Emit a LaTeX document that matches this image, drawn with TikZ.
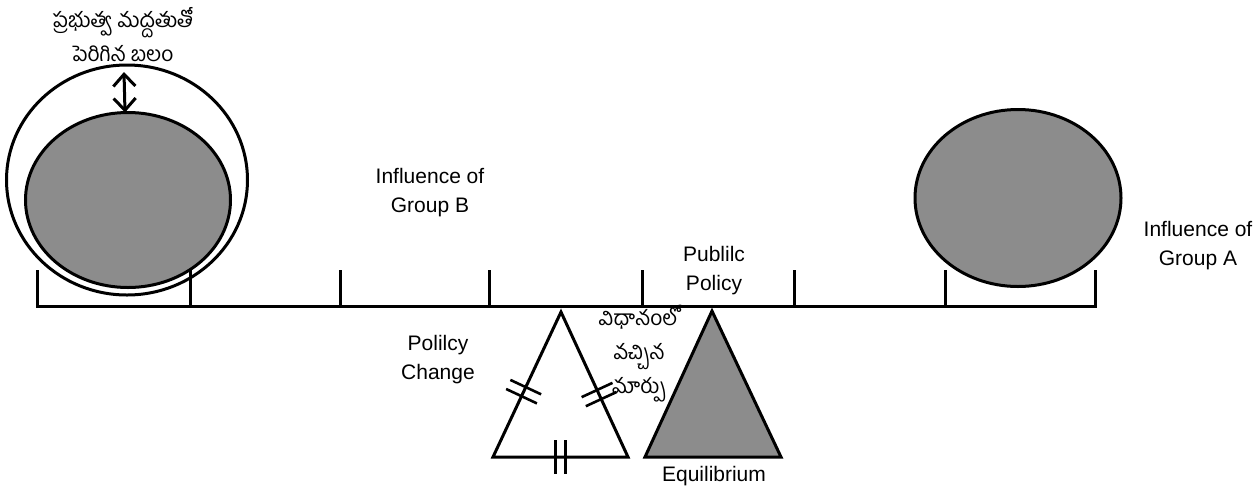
\documentclass[tikz,border=0pt]{standalone}
\usepackage{fontspec}
\setmainfont{Liberation Sans}
\newfontfamily\telugu[Script=Telugu]{Hind Guntur}
\usetikzlibrary{arrows.meta,shapes.geometric,decorations.markings}

\tikzset{
	ball/.style={ellipse, draw, inner sep=0pt, outer sep=0pt},
	weight/.style={fill=black!45},
	lbl/.style={align=center, font=\fontsize{10.5}{14.5}\selectfont},
	tel/.style={align=center, font=\telugu\fontsize{10.5}{17}\selectfont},
	eqticks/.style={postaction={decorate, decoration={markings,
		mark=at position #1 with {\draw[line width=1.3pt] (-5,-17)--(-5,17) (5,-17)--(5,17);}}}}
}

\begin{document}
\begin{tikzpicture}[x=0.5pt, y=-0.5pt, line width=1.5pt]
	\useasboundingbox (0,0) rectangle (1254,489);
	%\draw[help lines] (0,0) grid[step=50] (1254,489);
	% beam
	\draw (37,270) -- (37,306) -- (1095,306) -- (1095,270);
	\foreach \x in {190,340,489,642,794,945}
		\draw (\x,306) -- (\x,270);
	% weights
	\node[ball, minimum width=120.5pt, minimum height=115pt] (outer) at (127,180) {};
	\node[ball, weight, minimum width=102.5pt, minimum height=87.5pt] (inner) at (128,200) {};
	\node[ball, weight, minimum width=103pt, minimum height=88.5pt] (groupA) at (1018,198) {};
	\draw[{Straight Barb[length=6pt,width=11pt]}-{Straight Barb[length=6pt,width=11pt]}]
		([xshift=-1.5pt, yshift=-3.5pt]outer.north) -- ([xshift=-1.5pt]inner.north);
	% triangles
	\coordinate (lt) at (561,312); \coordinate (ll) at (493,457); \coordinate (lr) at (628,457);
	\coordinate (rt) at (712,311); \coordinate (rl) at (645,457); \coordinate (rr) at (781,457);
	\draw[line join=miter] (lt) -- (ll) -- (lr) -- cycle;
	\path[eqticks=0.55] (lt) -- (ll);
	\path[eqticks=0.57] (lt) -- (lr);
	\path[eqticks=0.5] (ll) -- (lr);
	\draw[weight, line join=miter] (rt) -- (rl) -- (rr) -- cycle;
	% labels
	\node[tel] (support) at (123,35) {ప్రభుత్వ మద్దతుతో\\పెరిగిన బలం};
	\node[lbl] (inflB) at (430,193) {Influence of\\Group B};
	\node[lbl] (inflA) at (1198,246) {Influence of\\Group A};
	\node[lbl] (policy) at (714,271) {Publilc\\Policy};
	\node[lbl] (change) at (438,360) {Polilcy\\Change};
	\node[tel] (change te) at (639,354) {విధానంలో\\వచ్చిన\\మార్పు};
	\node[lbl] (equil) at (714,476) {Equilibrium};
\end{tikzpicture}
\end{document}
